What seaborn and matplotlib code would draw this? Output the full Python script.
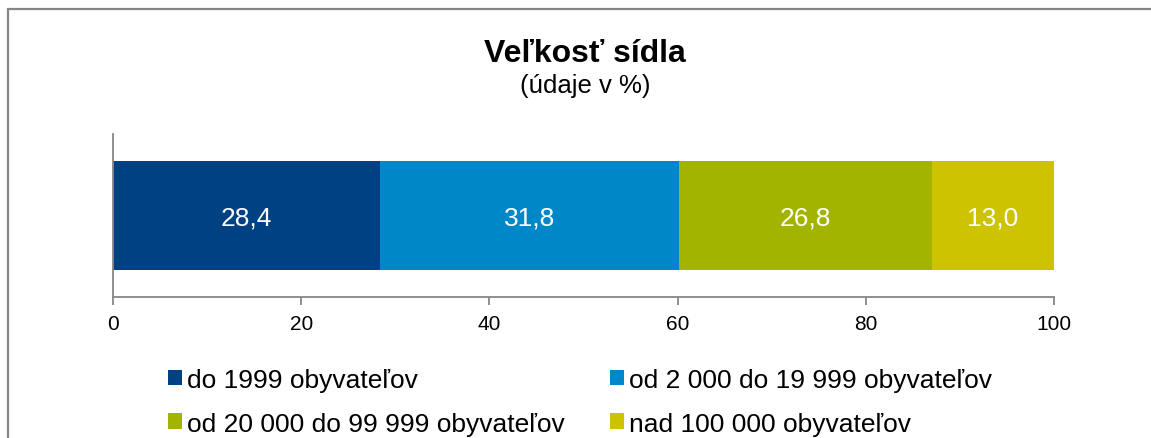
import matplotlib
matplotlib.use("Agg")
import matplotlib.pyplot as plt
import seaborn as sns
import numpy as np
import pandas as pd
from matplotlib.patches import Patch, Rectangle

categories = ["do 1999 obyvateľov", "od 2 000 do 19 999 obyvateľov",
              "od 20 000 do 99 999 obyvateľov", "nad 100 000 obyvateľov"]
values = [28.4, 31.8, 26.8, 13.0]
value_labels = ["28,4", "31,8", "26,8", "13,0"]
colors = ["#004183", "#0087C8", "#A2B300", "#CDC300"]
xticks = [0, 20, 40, 60, 80, 100]
title = "Veľkosť sídla"
subtitle = "(údaje v %)"

sns.set_theme(style="white")
plt.rcParams["font.family"] = ["Liberation Sans", "DejaVu Sans"]
plt.rcParams["text.color"] = "black"
plt.rcParams["xtick.color"] = "black"

W, H = 1151, 439
fig = plt.figure(figsize=(W / 100, H / 100), dpi=100)
ax = fig.add_axes([113 / W, 1 - 298 / H, (1054 - 113) / W, (298 - 135) / H])

cum = np.cumsum(values)
starts = cum - np.array(values)
df = pd.DataFrame({"row": ["r"] * len(values), "cum": cum, "cat": categories})
# draw from largest cumulative to smallest so segments stack
for i in range(len(values) - 1, -1, -1):
    sns.barplot(data=df.iloc[[i]], x="cum", y="row", color=colors[i],
                width=0.67, ax=ax, saturation=1, edgecolor="none", linewidth=0, orient="h")

for s, v, lab in zip(starts, values, value_labels):
    ax.text(s + v / 2, 0.0, lab, ha="center", va="center_baseline", color="white",
            fontsize=19)

ax.set_xlim(0, 100)
ax.set_ylim(0.5, -0.5)
ax.set_xticks(xticks)
ax.set_xticklabels([str(t) for t in xticks], fontsize=15, color="black")
ax.set_yticks([])
ax.set_xlabel("")
ax.set_ylabel("")
for sp in ["top", "right"]:
    ax.spines[sp].set_visible(False)
for sp in ["left", "bottom"]:
    ax.spines[sp].set_color("#868686")
    ax.spines[sp].set_linewidth(1.3)
ax.tick_params(axis="x", direction="out", length=6, width=1.3, color="#868686",
               labelcolor="black", pad=6, bottom=True)

fig.text(585 / W, 1 - 62 / H, title, ha="center", va="baseline", fontsize=23,
         fontweight="bold", color="black")
fig.text(585 / W, 1 - 93 / H, subtitle, ha="center", va="baseline", fontsize=18.5, color="black")

# legend: two columns, row-wise order as in the reference
col_items = [[0, 2], [1, 3]]
col_x = [168, 610]
for items, x in zip(col_items, col_x):
    handles = [Patch(facecolor=colors[i], edgecolor="none") for i in items]
    labels = [categories[i] for i in items]
    fig.legend(handles, labels, ncol=1, loc="upper left",
               bbox_to_anchor=(x / W, 1 - 369 / H), frameon=False,
               fontsize=19, handlelength=0.53, handleheight=0.53, handletextpad=0.18,
               labelspacing=0.74, borderaxespad=0, borderpad=0, labelcolor="black")

# figure border (cropped chart area frame)
fig.patches.append(Rectangle((8 / W, -0.1), 1.2, 1 - 10 / H + 0.1, transform=fig.transFigure,
                             fill=False, edgecolor="#868686", linewidth=1.6))

fig.savefig("out.png", dpi=100)
